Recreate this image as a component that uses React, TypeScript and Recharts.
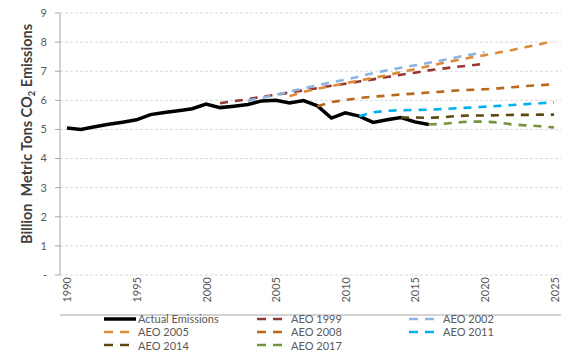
import React from "react";
import { LineChart, Line, XAxis, YAxis, CartesianGrid, Legend } from "recharts";

if (typeof document !== "undefined") document.body.style.margin = "0";

const FONT = "Lato, 'Open Sans', sans-serif";
const TEXT = "#595959";

// first / last category on the axis
const FIRST_YEAR = 1990;
const LAST_YEAR = 2025;
const LABEL_YEARS = [1990, 1995, 2000, 2005, 2010, 2015, 2020, 2025];
const Y_TICKS = [0, 1, 2, 3, 4, 5, 6, 7, 8, 9];

// values in billion metric tons, one per year from each start year
const actualEmissions = [
  5.05, 5.0, 5.09, 5.18, 5.25, 5.33, 5.51, 5.58, 5.64, 5.71, 5.87, 5.75, 5.8,
  5.86, 5.98, 6.0, 5.91, 5.99, 5.81, 5.39, 5.57, 5.46, 5.24, 5.33, 5.41, 5.26,
  5.17,
];
const aeo1999 = [
  5.9, 5.97, 6.04, 6.12, 6.19, 6.27, 6.34, 6.42, 6.5, 6.57, 6.65, 6.72, 6.8,
  6.88, 6.95, 7.03, 7.09, 7.15, 7.2, 7.26,
];
const aeo2002 = [
  5.99, 6.08, 6.19, 6.3, 6.41, 6.52, 6.62, 6.71, 6.82, 6.93, 7.03, 7.12, 7.2,
  7.29, 7.38, 7.48, 7.57, 7.65,
];
const aeo2005 = [
  6.14, 6.29, 6.4, 6.49, 6.59, 6.68, 6.77, 6.86, 6.97, 7.07, 7.18, 7.28, 7.38,
  7.47, 7.55, 7.64, 7.73, 7.83, 7.93, 8.04,
];
const aeo2008 = [
  5.8, 5.94, 6.01, 6.08, 6.13, 6.16, 6.2, 6.23, 6.27, 6.3, 6.34, 6.36, 6.38,
  6.41, 6.45, 6.49, 6.52, 6.55,
];
const aeo2011 = [
  5.45, 5.59, 5.64, 5.66, 5.67, 5.68, 5.7, 5.73, 5.75, 5.78, 5.81, 5.84, 5.87,
  5.9, 5.93,
];
const aeo2014 = [5.41, 5.41, 5.4, 5.42, 5.46, 5.48, 5.48, 5.49, 5.5, 5.5, 5.51, 5.51];
const aeo2017 = [5.17, 5.19, 5.24, 5.27, 5.27, 5.24, 5.17, 5.14, 5.11, 5.07];

const SERIES = [
  { key: "actual", name: "Actual Emissions", start: 1990, values: actualEmissions, color: "#000000", dashed: false },
  { key: "aeo1999", name: "AEO 1999", start: 2001, values: aeo1999, color: "#953735", dashed: true },
  { key: "aeo2002", name: "AEO 2002", start: 2003, values: aeo2002, color: "#8DB4E2", dashed: true },
  { key: "aeo2005", name: "AEO 2005", start: 2006, values: aeo2005, color: "#DD8B3A", dashed: true },
  { key: "aeo2008", name: "AEO 2008", start: 2008, values: aeo2008, color: "#B8691F", dashed: true },
  { key: "aeo2011", name: "AEO 2011", start: 2011, values: aeo2011, color: "#00B0F0", dashed: true },
  { key: "aeo2014", name: "AEO 2014", start: 2014, values: aeo2014, color: "#5E4A10", dashed: true },
  { key: "aeo2017", name: "AEO 2017", start: 2016, values: aeo2017, color: "#77933C", dashed: true },
];

const data: Record<string, number>[] = [];
for (let year = FIRST_YEAR; year <= LAST_YEAR; year++) {
  const row: Record<string, number> = { year };
  SERIES.forEach((s) => {
    const v = s.values[year - s.start];
    if (v !== undefined && year >= s.start) row[s.key] = v;
  });
  data.push(row);
}

// tick marks sit between categories, like a category axis
const boundaryTicks: number[] = [];
for (let b = FIRST_YEAR - 0.5; b <= LAST_YEAR + 0.5; b++) boundaryTicks.push(b);

const LEGEND_COLS = [104, 257, 409];

function ChartLegend() {
  return (
    <div style={{ position: "relative", width: 576, height: 42, fontFamily: FONT, fontSize: 11, color: TEXT }}>
      {SERIES.map((s, i) => (
        <div
          key={s.key}
          style={{
            position: "absolute",
            left: LEGEND_COLS[i % 3],
            top: Math.floor(i / 3) * 13.4,
            height: 13,
            display: "flex",
            alignItems: "center",
            whiteSpace: "nowrap",
          }}
        >
          <svg width={34} height={6} style={{ display: "block" }}>
            <line
              x1={0}
              y1={3}
              x2={s.dashed ? 25 : 32}
              y2={3}
              stroke={s.color}
              strokeWidth={s.dashed ? 2.5 : 3.5}
              strokeDasharray={s.dashed ? "9 7" : undefined}
            />
          </svg>
          <span>{s.name}</span>
        </div>
      ))}
    </div>
  );
}

function YearTick({ x, y, payload }: any) {
  return (
    <text
      x={x}
      y={y}
      transform={`rotate(-90, ${x}, ${y})`}
      textAnchor="end"
      dominantBaseline="central"
      fontSize={11}
      fontFamily={FONT}
      fill={TEXT}
    >
      {payload.value}
    </text>
  );
}

function YTitle({ viewBox }: any) {
  const cx = 26;
  const cy = viewBox.y + viewBox.height / 2 - 10;
  return (
    <text
      x={cx}
      y={cy}
      transform={`rotate(-90, ${cx}, ${cy})`}
      textAnchor="middle"
      dominantBaseline="central"
      fontSize={14.5}
      fontWeight="bold"
      fontFamily={FONT}
      fill="#404040"
      style={{ whiteSpace: "pre" }}
    >
      {"Billion  Metric Tons CO"}
      <tspan baselineShift="sub" fontSize={9.5}>2</tspan>
      <tspan>{" Emissions"}</tspan>
    </text>
  );
}

export default function App() {
  return (
    <div style={{ width: 576, height: 360, background: "#fff" }}>
      <LineChart width={576} height={360} data={data} margin={{ top: 13, right: 15, bottom: 40, left: 0 }}>
        <CartesianGrid xAxisId="x" vertical={false} stroke="#d9d9d9" strokeDasharray="3 2" />
        <XAxis
          xAxisId="x"
          dataKey="year"
          type="number"
          domain={[FIRST_YEAR - 0.5, LAST_YEAR + 0.5]}
          ticks={boundaryTicks}
          tick={false}
          tickSize={5}
          height={5}
          stroke="#a6a6a6"
        />
        <XAxis
          xAxisId="lab"
          dataKey="year"
          type="number"
          domain={[FIRST_YEAR - 0.5, LAST_YEAR + 0.5]}
          ticks={LABEL_YEARS}
          tick={<YearTick />}
          axisLine={false}
          tickLine={false}
          tickSize={0}
          tickMargin={2}
          height={40}
        />
        <YAxis
          domain={[0, 9]}
          ticks={Y_TICKS}
          width={60}
          tickSize={5}
          tickMargin={8}
          stroke="#a6a6a6"
          tick={{ fill: TEXT, fontSize: 11, fontFamily: FONT }}
          tickFormatter={(v: number) => (v === 0 ? "-" : String(v))}
          label={{ content: (props: any) => <YTitle {...props} /> }}
        />
        {SERIES.map((s) => (
          <Line
            key={s.key}
            xAxisId="x"
            dataKey={s.key}
            name={s.name}
            type="linear"
            stroke={s.color}
            strokeWidth={s.dashed ? 2.6 : 3.5}
            strokeDasharray={s.dashed ? "8 7" : undefined}
            dot={false}
            activeDot={false}
            isAnimationActive={false}
          />
        ))}
        <Legend
          content={<ChartLegend />}
          layout="vertical"
          align="center"
          verticalAlign="middle"
          wrapperStyle={{ top: 312, left: 0, width: 576 }}
        />
      </LineChart>
    </div>
  );
}
